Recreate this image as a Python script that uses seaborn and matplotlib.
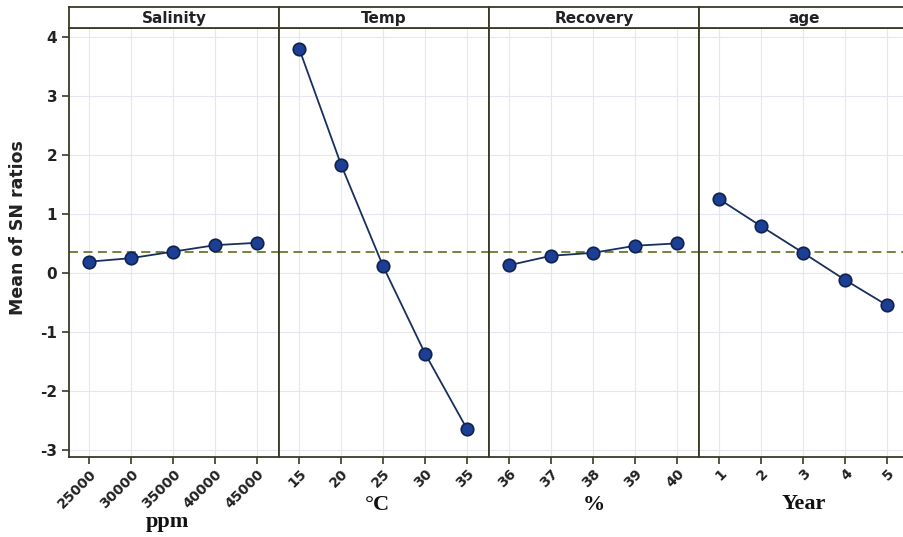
import numpy as np
import pandas as pd
import seaborn as sns
import matplotlib
matplotlib.use("Agg")
import matplotlib.pyplot as plt

sns.set_theme(style="white")

factors = ["Salinity", "Temp", "Recovery", "age"]
units = ["ppm", "\u00b0C", "%", "Year"]
salinity_levels = ["25000", "30000", "35000", "40000", "45000"]
temp_levels = ["15", "20", "25", "30", "35"]
recovery_levels = ["36", "37", "38", "39", "40"]
age_levels = ["1", "2", "3", "4", "5"]
salinity_sn = [0.19, 0.25, 0.36, 0.47, 0.51]
temp_sn = [3.80, 1.83, 0.11, -1.37, -2.65]
recovery_sn = [0.13, 0.29, 0.34, 0.46, 0.50]
age_sn = [1.25, 0.79, 0.34, -0.12, -0.55]
y_ticks = [-3, -2, -1, 0, 1, 2, 3, 4]

levels = [salinity_levels, temp_levels, recovery_levels, age_levels]
values = [salinity_sn, temp_sn, recovery_sn, age_sn]
grand_mean = float(np.mean(np.concatenate([np.array(v) for v in values])))

W, H = 904, 537
fig = plt.figure(figsize=(W / 100, H / 100), dpi=100)

edge = "#3a3a26"
left_px, top_px, bot_px, strip_top_px = 69, 28, 457, 7
pw = 210
label_top_px = [512, 495, 495, 494]

ax0 = None
for i in range(4):
    x0 = (left_px + i * pw) / W
    ax = fig.add_axes([x0, (H - bot_px) / H, pw / W, (bot_px - top_px) / H],
                      sharey=ax0)
    if ax0 is None:
        ax0 = ax
    df = pd.DataFrame({"pos": np.arange(5), "sn": values[i]})
    ax.axhline(grand_mean, color="#6a7a30", lw=1.3, ls=(0, (5, 3)), zorder=1)
    sns.lineplot(data=df, x="pos", y="sn", ax=ax, color="#17305e", lw=1.3,
                 marker="o", markersize=9, markerfacecolor="#1c3f95",
                 markeredgecolor="#0f2250", markeredgewidth=1.2, zorder=3)
    ax.set_xlim(-0.48, 4.52)
    ax.set_ylim(-3.12, 4.15)
    ax.set_xticks(range(5))
    ax.set_xticklabels(levels[i], rotation=45, ha="right", rotation_mode="anchor",
                       fontsize=10, fontweight="semibold", color="#222222")
    ax.set_yticks(y_ticks)
    ax.grid(True, color="#e6e6f2", lw=0.8, zorder=0)
    ax.set_axisbelow(True)
    ax.tick_params(axis="x", direction="out", length=5, width=1.2, color=edge,
                   bottom=True, pad=2)
    if i == 0:
        ax.set_yticklabels([str(t) for t in y_ticks], fontsize=11,
                           fontweight="semibold", color="#222222")
        ax.tick_params(axis="y", direction="out", length=5, width=1.2, color=edge,
                       left=True)
        ax.set_ylabel("Mean of SN ratios", fontsize=12.5, fontweight="semibold",
                      color="#222222")
        ax.yaxis.set_label_coords(-0.2, (bot_px - 228) / (bot_px - top_px))
    else:
        ax.tick_params(axis="y", left=False, labelleft=False)
        ax.set_ylabel("")
    ax.set_xlabel(units[i], fontsize=16, fontweight="bold", family="Liberation Serif",
                  color="#111111")
    ax.xaxis.set_label_coords(0.47 if i < 2 else 0.5,
                              -(label_top_px[i] - bot_px) / (bot_px - top_px))
    for s in ax.spines.values():
        s.set_color(edge)
        s.set_linewidth(1.3)
    # strip header
    sax = fig.add_axes([x0, (H - top_px) / H, pw / W, (top_px - strip_top_px) / H])
    sax.set_xticks([])
    sax.set_yticks([])
    sax.set_facecolor("white")
    for s in sax.spines.values():
        s.set_color(edge)
        s.set_linewidth(1.3)
    sax.text(0.5, 0.45, factors[i], ha="center", va="center", fontsize=11,
             fontweight="semibold", color="#222222", transform=sax.transAxes)

fig.savefig("out.png", dpi=100, facecolor="white")
